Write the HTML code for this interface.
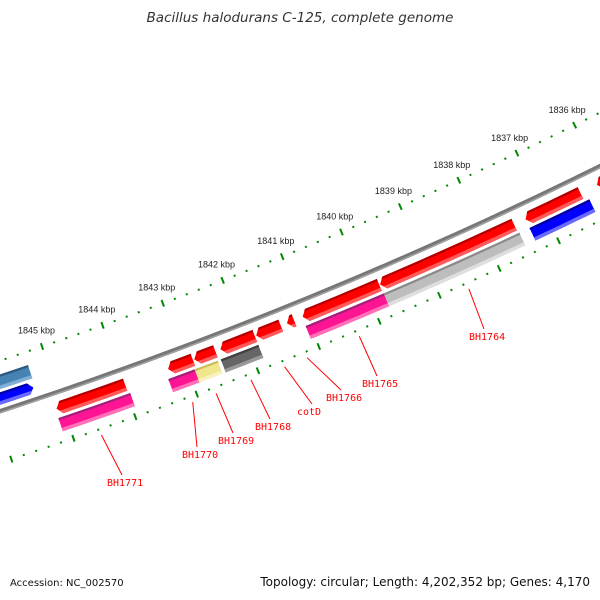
<!DOCTYPE html>
<html><head><meta charset="utf-8"><style>
html,body{margin:0;padding:0;background:#fff;}
svg{display:block;}
</style></head><body>
<svg id="map" width="600" height="600" viewBox="0 0 600 600" xmlns="http://www.w3.org/2000/svg">
<defs id="defs"></defs>
<rect x="0" y="0" width="600" height="600" fill="#fff"/>
<text x="300" y="22" text-anchor="middle" font-family="DejaVu Sans, sans-serif" font-style="italic" font-size="13.5" fill="#333">Bacillus halodurans C-125, complete genome</text>
<g id="ticks"></g>
<g id="backbone"></g>
<g id="genes"></g>
<g id="labels"></g>
<text x="10" y="586" font-family="DejaVu Sans, sans-serif" font-size="10" fill="#111">Accession: NC_002570</text>
<text x="590" y="586" text-anchor="end" font-family="DejaVu Sans, sans-serif" font-size="12" fill="#111">Topology: circular; Length: 4,202,352 bp; Genes: 4,170</text>
</svg>
<script>
// ---- data ----
const kbpTicks = [1836,1837,1838,1839,1840,1841,1842,1843,1844,1845];
const geneStart = [1845.1,1843.28,1842.85,1842.42,1841.83,1841.32,1841.06,1839.77,1837.32,1836.1,
                   1845.12,1843.33,1842.9,1842.47,1841.07,1839.77,1837.32,
                   1846.5,1846.5];
const geneEnd   = [1843.98,1842.87,1842.5,1841.85,1841.42,1841.2,1839.78,1837.51,1836.38,1835.7,
                   1843.95,1842.85,1842.52,1841.85,1839.77,1837.49,1836.3,
                   1845.33,1845.3];
const geneRow   = [1,1,1,1,1,1,1,1,1,1, 2,2,2,2,2,2,2, -1,-2];
const geneArrow = ['L','L','L','L','L','L','L','L','L','L', '','','','','','','', 'R',''];
const geneColor = ['red','red','red','red','red','red','red','red','red','red',
                   'pink','pink','khaki','dark','pink','light','blue','blue','steel'];
const labelNames = ['BH1771','BH1770','BH1769','BH1768','cotD','BH1766','BH1765','BH1764'];
const labelKbp   = [1844.58,1843.1,1842.72,1842.15,1841.6,1841.23,1840.37,1838.55];
// ---- layout ----
const labelTextX = [107,182,218,255,297,326,362,469];
const labelTextY = [486,458,444,430,415,401,387,340];
const CX=-1412.5, CY=-3904.5, R0=4541, RT_OUT=4493, RT_IN=4590;
const rowR = {'1':[4550,4563],'2':[4566,4580],'-1':[4523,4535],'-2':[4506,4520]};
const palette = {
 red:['#b00000','#ff0000','#ff5a5a'], pink:['#a0207a','#ff1493','#ff70b8'],
 khaki:['#c8bc5c','#f0e68c','#f8f2c0'], dark:['#404040','#666666','#9a9a9a'],
 light:['#8a8a8a','#bdbdbd','#dedede'], blue:['#0000a0','#0000ff','#6a6aff'],
 steel:['#2c5a80','#4682b4','#80aed4']};
const NS='http://www.w3.org/2000/svg';
function th(k){return (67.84+(k-1841)*0.8178)*Math.PI/180;}
function pt(k,r){const t=th(k);return [CX+r*Math.cos(t),CY+r*Math.sin(t)];}
function mk(tag,attrs,parent){const e=document.createElementNS(NS,tag);for(const a in attrs)e.setAttribute(a,attrs[a]);parent.appendChild(e);return e;}
function P(p){return p[0].toFixed(2)+','+p[1].toFixed(2);}

// tick rings
const tg=document.getElementById('ticks');
[RT_OUT,RT_IN].forEach((R,ri)=>{
  for(let i=0;i<=60;i++){
    const k=1835+i*0.2;
    const major=Math.abs(k-Math.round(k))<1e-6;
    const h=major?3.5:1;
    const a=pt(k,R-h),b=pt(k,R+h);
    const l=mk('line',{x1:a[0],y1:a[1],x2:b[0],y2:b[1],stroke:'#008800','stroke-width':2},tg);
    
    
  }
});
kbpTicks.forEach(k=>{
  const p=pt(k,RT_OUT-17);
  const t=mk('text',{x:p[0],y:p[1]+3,'text-anchor':'middle','font-family':'Liberation Sans, sans-serif','font-size':9,fill:'#222'},tg);
  t.textContent=k+' kbp';
  
  
});

// backbone
const bg=document.getElementById('backbone');
let d='';
for(let i=0;i<=60;i++){const p=pt(1835+i*0.2,R0);d+=(i?'L':'M')+P(p);}
const bb=mk('path',{d:d,fill:'none',stroke:'#777','stroke-width':4.5},bg);


const bb2=mk('path',{d:d,fill:'none',stroke:'#a0a0a0','stroke-width':1.5,transform:'translate(0.6,1.3)'},bg);



// genes
const gg=document.getElementById('genes');
const defs=document.getElementById('defs');
function band(k1,k2,r0,r1,arrow){
  const len=k1-k2, a=Math.min(0.08,len);
  const pts=[];
  const rm=(r0+r1)/2;
  const L1=arrow==='L'?k1-a:k1, L2=arrow==='R'?k2+a:k2;
  if(arrow==='L')pts.push(pt(k1,rm));
  const n=Math.max(2,Math.ceil((L1-L2)/0.2));
  for(let i=0;i<=n;i++)pts.push(pt(L1-(L1-L2)*i/n,r0));
  if(arrow==='R')pts.push(pt(k2,rm));
  for(let i=n;i>=0;i--)pts.push(pt(L1-(L1-L2)*i/n,r1));
  return pts.map(P).join(' ');
}
for(let i=0;i<geneStart.length;i++){
  const [r0,r1]=rowR[String(geneRow[i])];
  const c=palette[geneColor[i]];
  const k1=geneStart[i],k2=geneEnd[i],ar=geneArrow[i];
  const shape=band(k1,k2,r0,r1,ar);
  const cp=mk('clipPath',{id:'clip'+i},defs);
  mk('polygon',{points:shape},cp);
  const g=mk('g',{'clip-path':'url(#clip'+i+')'},gg);
  
  
  const main=mk('polygon',{points:shape,fill:c[1]},g);
  
  
  const top=mk('polygon',{points:band(k1+0.2,k2-0.2,r0-2,r0+2.2,''),fill:c[0]},g);
  
  
  const bot=mk('polygon',{points:band(k1+0.2,k2-0.2,r1-3.5,r1+2,''),fill:c[2]},g);
  
  
}

// labels
const lg=document.getElementById('labels');
for(let i=0;i<labelNames.length;i++){
  const s=pt(labelKbp[i],4596);
  const ex=labelTextX[i]+15, ey=labelTextY[i]-11;
  const l=mk('line',{x1:s[0],y1:s[1],x2:ex,y2:ey,stroke:'#ff0000','stroke-width':1},lg);
  
  
  const t=mk('text',{x:labelTextX[i],y:labelTextY[i],'font-family':'DejaVu Sans Mono, monospace','font-size':10,fill:'#ff0000'},lg);
  t.textContent=labelNames[i];
  
  
}
</script>
</body></html>
